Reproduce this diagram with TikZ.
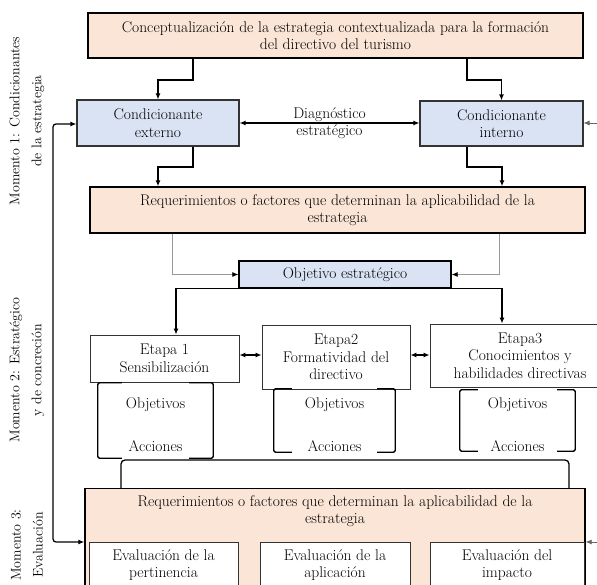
\documentclass[tikz,border=0pt]{standalone}
\usetikzlibrary{arrows.meta,calc}
\definecolor{peach}{HTML}{FBE5D6}
\definecolor{lblue}{HTML}{DAE3F3}
\begin{document}
\begin{tikzpicture}[x=1pt,y=-1pt,
  font=\fontsize{15.5}{17.5}\selectfont,
  box/.style={draw, line width=1.1pt, align=center, inner sep=0pt},
  pbox/.style={box, fill=peach},
  bbox/.style={box, fill=lblue, draw=black!80},
  wbox/.style={box, fill=white, draw=black!80, line width=0.9pt},
  txt/.style={align=center, inner sep=0pt},
  tip/.style={-{Latex[length=6pt,width=5pt]}},
  conn/.style={line width=1.3pt, tip},
  dconn/.style={line width=1.3pt, {Latex[length=6pt,width=5pt]}-{Latex[length=6pt,width=5pt]}},
  gconn/.style={line width=0.7pt, draw=black!40, -{Latex[length=6pt,width=5pt,color=black]}},
  brk/.style={line width=1.3pt, rounded corners=1.5pt},
  side/.style={align=center, rotate=90, inner sep=0pt, font=\fontsize{14}{22}\selectfont}
]
\useasboundingbox (0,0) rectangle (597,585);
\begin{scope}
\clip (0,0) rectangle (597,585);

% side labels
\node[side] (m1) at (27,121) {Momento 1: Condicionantes\\de la estrategia};
\node[side] (m2) at (27,370) {Momento 2: Estratégico\\y de concreción};
\node[side] (m3) at (27,545) {Momento 3:\\Evaluación};

% boxes
\node[pbox, line width=1.5pt, minimum width=495, minimum height=45] (top) at (335.5,35.5)
  {Conceptualización de la estrategia contextualizada para la formación\\del directivo del turismo};
\node[bbox, minimum width=162, minimum height=46] (ext) at (158,123) {Condicionante\\externo};
\node[bbox, minimum width=163, minimum height=45] (int) at (501.5,123.5) {Condicionante\\interno};
\node[pbox, line width=1.4pt, minimum width=495, minimum height=46] (req1) at (337.5,210)
  {Requerimientos o factores que determinan la aplicabilidad de la\\estrategia};
\node[bbox, draw=black, line width=1.4pt, minimum width=212, minimum height=27] (obj) at (345,274.5) {Objetivo estratégico};

\node[wbox, minimum width=149, minimum height=47] (e1) at (164.5,358.5) {Etapa 1\\Sensibilización};
\node[wbox, minimum width=148, minimum height=64] (e2) at (336,357) {Etapa2\\Formatividad del\\directivo};
\node[wbox, minimum width=180, minimum height=63] (e3) at (520,355.5) {Etapa3\\Conocimientos y\\habilidades directivas};

% brackets
\node[inner sep=0pt, minimum width=115, minimum height=75] (br1) at (155.5,420.5) {};
\node[inner sep=0pt, minimum width=121, minimum height=63] (br2) at (334.5,420.5) {};
\node[inner sep=0pt, minimum width=115, minimum height=61] (br3) at (517.5,420.5) {};
\foreach \b/\h in {br1/24,br2/18,br3/18}{
  \draw[brk] ($(\b.north west)+(\h,0)$) -- (\b.north west) -- (\b.south west) -- ++(\h,0);
  \draw[brk] ($(\b.north east)+(-\h,0)$) -- (\b.north east) -- (\b.south east) -- ++(-\h,0);
}
\node[txt] (o1) at (155.5,405) {Objetivos};
\node[txt] (a1) at (155.5,446) {Acciones};
\node[txt] (o2) at (334.5,405) {Objetivos};
\node[txt] (a2) at (334.5,446) {Acciones};
\node[txt] (o3) at (517.5,405) {Objetivos};
\node[txt] (a3) at (517.5,446) {Acciones};

% bottom box
\node[pbox, line width=1.4pt, anchor=north, minimum width=500, minimum height=120] (bot) at (335,488) {};
\node[txt] (botT) at (335,511) {Requerimientos o factores que determinan la aplicabilidad de la\\estrategia};
\node[wbox, anchor=north, minimum width=149, minimum height=60] (ev1) at (163.5,542) {};
\node[wbox, anchor=north, minimum width=150, minimum height=60] (ev2) at (335,542) {};
\node[wbox, anchor=north, minimum width=154, minimum height=60] (ev3) at (507,542) {};
\node[txt] (ev1t) at (163.5,565) {Evaluación de la\\pertinencia};
\node[txt] (ev2t) at (335,565) {Evaluación de la\\aplicación};
\node[txt] (ev3t) at (507,565) {Evaluación del\\impacto};

% connectors
\draw[conn] (top.south -| 193,0) -- (193,80) -| (ext.north);
\draw[conn] (top.south -| 467,0) -- (467,80) -| (int.north);
\draw[conn] (ext.south -| 193,0) -- (193,167) -| (req1.north -| 158,0);
\draw[conn] (int.south -| 467,0) -- (467,167) -| (req1.north -| 502,0);
\draw[dconn] (ext.east) -- (int.west |- ext.east)
  node[midway, txt] (diag) {Diagnóstico\\[-0.5pt]estratégico};

\coordinate (rin1) at (597,123);
\coordinate (rin2) at (597,542);
\draw[line width=0.7pt, draw=black!60, tip] (rin1) -- (rin1 -| int.east);
\draw[line width=0.7pt, draw=black!60, tip] (rin2) -- (rin2 -| bot.east);

\draw[gconn] (req1.south -| 172,0) |- (obj.west);
\draw[gconn] (req1.south -| 499,0) |- (obj.east);

\draw[conn] (obj.south -| 252,0) -| (e1.north -| 176,0);
\draw[conn] (obj.south east) -| (e3.north -| 502,0);

\draw[dconn] (e1.east |- 0,355) -- (e2.west |- 0,355);
\draw[dconn] (e2.east |- 0,355) -- (e3.west |- 0,355);

\draw[dconn, rounded corners=3pt] (ext.west |- 0,124) -- (53,124) -- (53,542) -- (bot.west |- 0,542);

\draw[brk, rounded corners=4pt] (bot.north -| 121,0) -- (121,460) -- (569,460) -- (bot.north -| 569,0);
\end{scope}
\end{tikzpicture}
\end{document}
